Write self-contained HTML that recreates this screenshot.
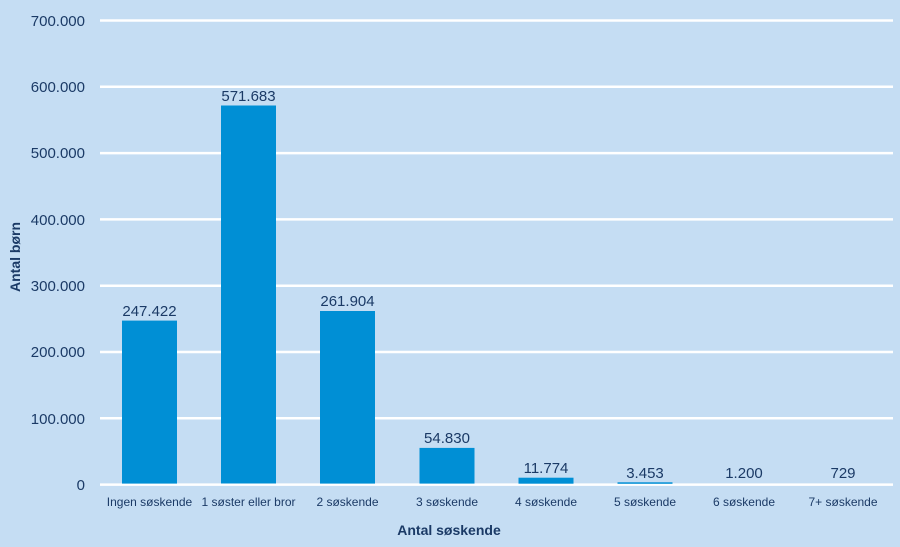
<!DOCTYPE html>
<html><head><meta charset="utf-8"><style>
body{margin:0;background:#c5ddf3}
svg{display:block}
text{font-family:"Liberation Sans",sans-serif;fill:#1b3a66}
</style></head><body>
<svg width="900" height="547" xmlns="http://www.w3.org/2000/svg">
<rect width="900" height="547" fill="#c5ddf3"/>
<g stroke="#ffffff" stroke-width="2.5">
<line x1="100" x2="893" y1="20.5" y2="20.5"/>
<line x1="100" x2="893" y1="86.8" y2="86.8"/>
<line x1="100" x2="893" y1="153.1" y2="153.1"/>
<line x1="100" x2="893" y1="219.4" y2="219.4"/>
<line x1="100" x2="893" y1="285.7" y2="285.7"/>
<line x1="100" x2="893" y1="352" y2="352"/>
<line x1="100" x2="893" y1="418.3" y2="418.3"/>
<line x1="100" x2="893" y1="484.6" y2="484.6"/>
</g>
<g font-size="15" text-anchor="end">
<text x="85" y="26">700.000</text>
<text x="85" y="92">600.000</text>
<text x="85" y="158">500.000</text>
<text x="85" y="225">400.000</text>
<text x="85" y="291">300.000</text>
<text x="85" y="357">200.000</text>
<text x="85" y="424">100.000</text>
<text x="85" y="490">0</text>
</g>
<g fill="#008fd5">
<rect x="122" y="320.6" width="55" height="163"/>
<rect x="221" y="105.5" width="55" height="378"/>
<rect x="320" y="311" width="55" height="172.6"/>
<rect x="419.5" y="447.9" width="55" height="35.7"/>
<rect x="518.5" y="477.7" width="55" height="6"/>
<rect x="617.5" y="482.3" width="55" height="1.5"/>
</g>
<g font-size="15" text-anchor="middle">
<text x="149.5" y="316">247.422</text>
<text x="248.5" y="101">571.683</text>
<text x="347.5" y="306">261.904</text>
<text x="447" y="443">54.830</text>
<text x="546" y="473">11.774</text>
<text x="645" y="478">3.453</text>
<text x="744" y="478">1.200</text>
<text x="843" y="478">729</text>
</g>
<g font-size="12" text-anchor="middle">
<text x="149.5" y="506">Ingen søskende</text>
<text x="248.5" y="506">1 søster eller bror</text>
<text x="347.5" y="506">2 søskende</text>
<text x="447" y="506">3 søskende</text>
<text x="546" y="506">4 søskende</text>
<text x="645" y="506">5 søskende</text>
<text x="744" y="506">6 søskende</text>
<text x="843" y="506">7+ søskende</text>
</g>
<text x="449" y="535" font-size="14" font-weight="bold" text-anchor="middle">Antal søskende</text>
<text x="0" y="0" font-size="14" font-weight="bold" text-anchor="middle" transform="translate(20,257) rotate(-90)">Antal børn</text>
</svg>
</body></html>
